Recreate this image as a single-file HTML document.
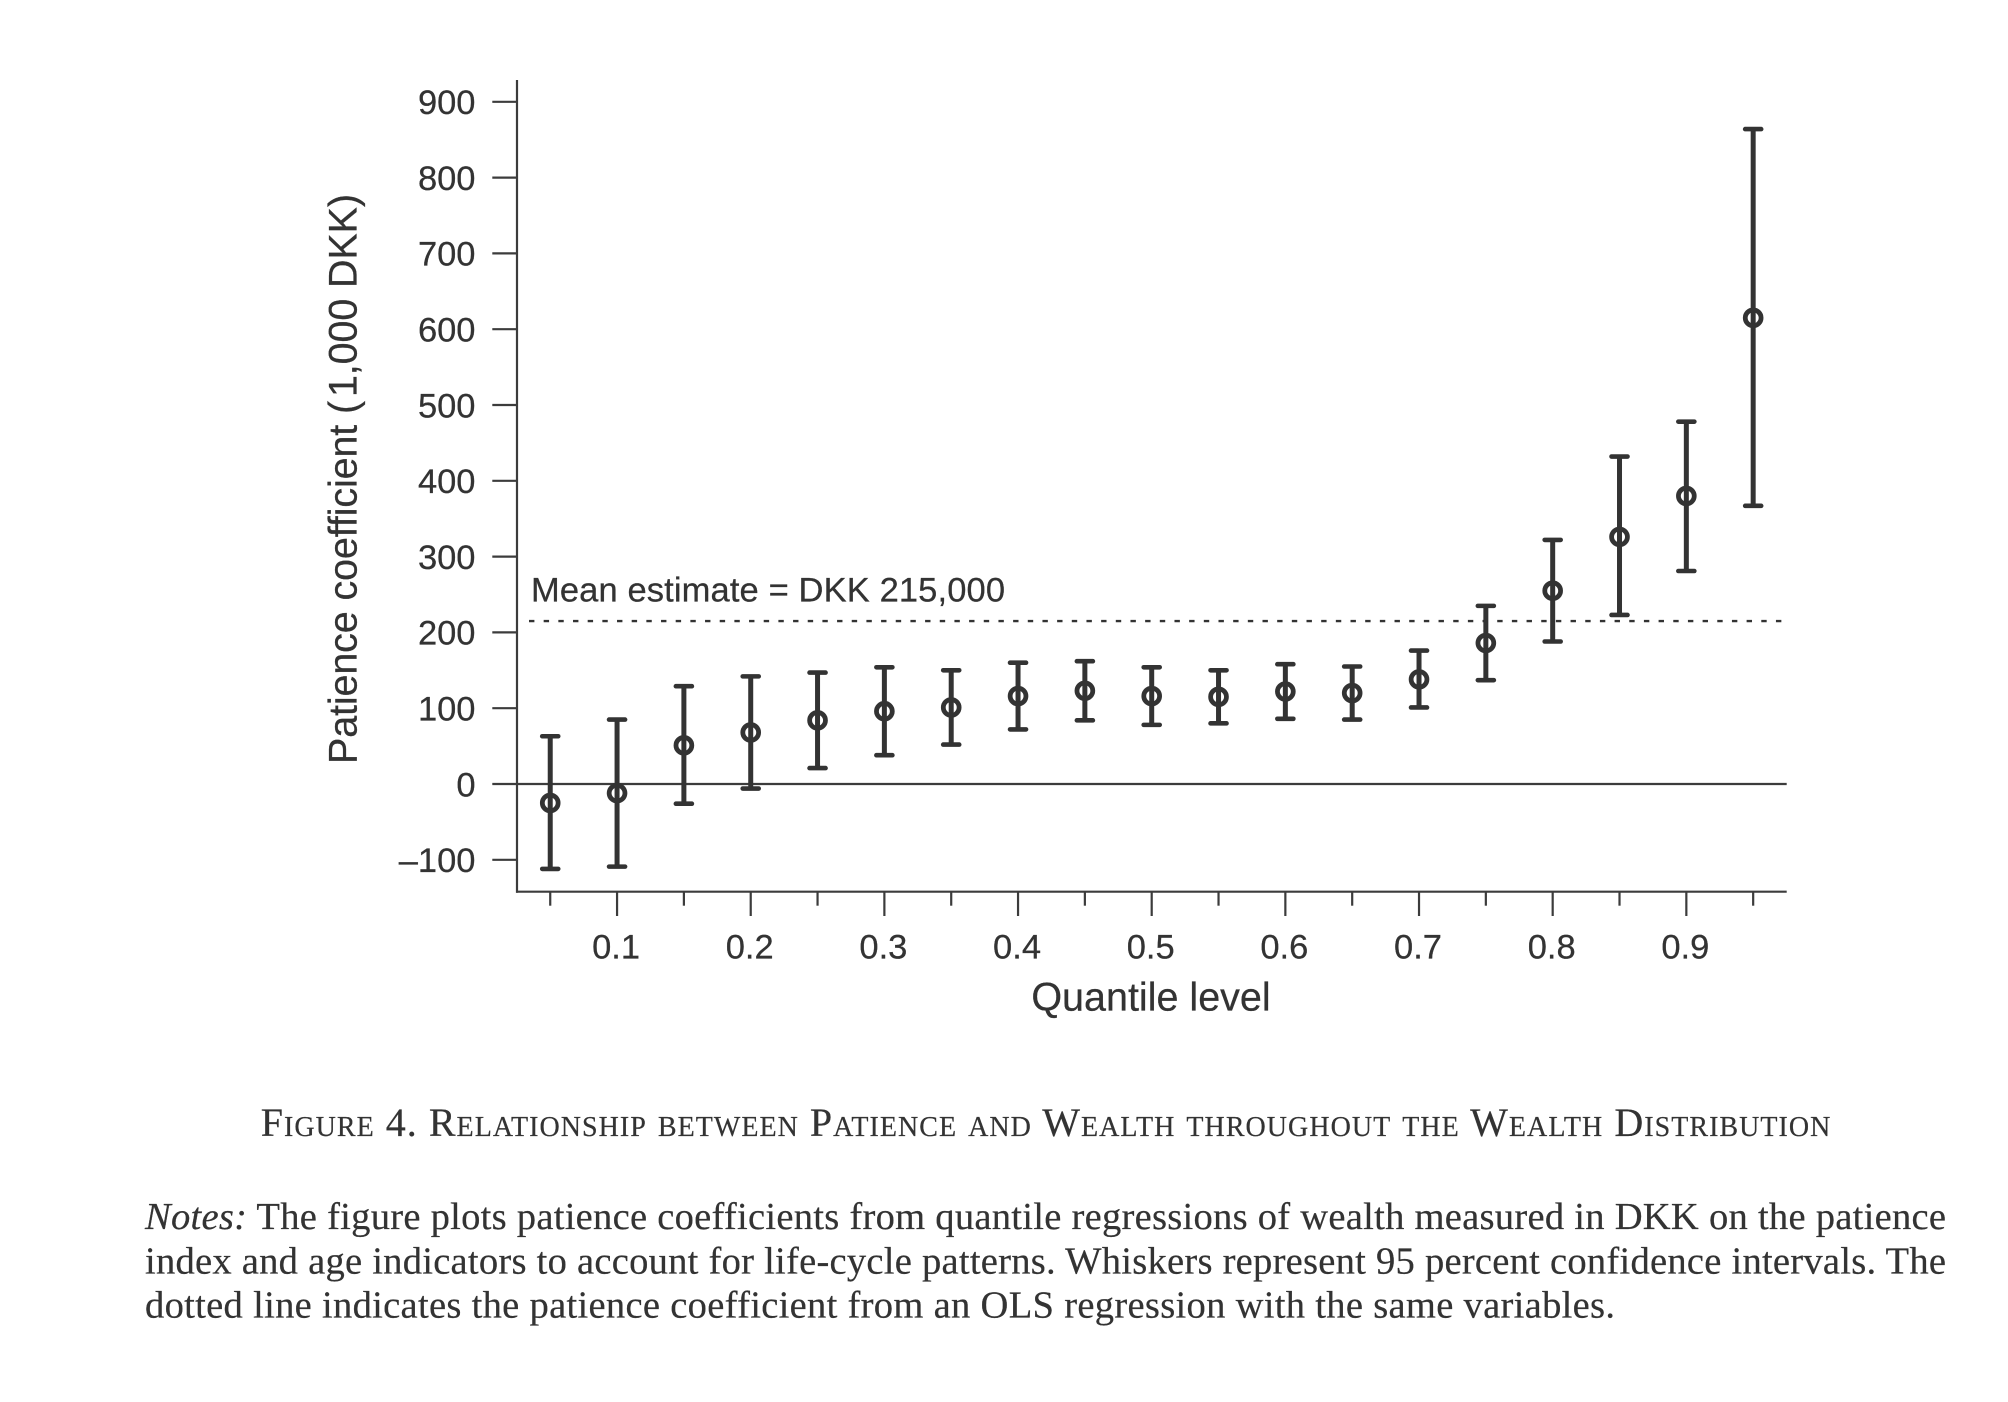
<!DOCTYPE html>
<html lang="en">
<head>
<meta charset="utf-8">
<title>Figure 4</title>
<style>
html,body{margin:0;padding:0;background:#fff;}
body{width:2008px;height:1402px;overflow:hidden;}
svg{display:block;}
.sans{font-family:"Liberation Sans",Arial,sans-serif;fill:#333;stroke:#333;stroke-width:0.25px;}
.serif{font-family:"Liberation Serif","Times New Roman",serif;fill:#333;stroke:#333;stroke-width:0.2px;}
</style>
</head>
<body>
<svg id="figure" xmlns="http://www.w3.org/2000/svg" width="2008" height="1402" viewBox="0 0 2008 1402">
  <rect x="0" y="0" width="2008" height="1402" fill="#ffffff"/>
  <g id="axes"></g>
  <g id="marks"></g>
  <text class="sans" font-size="39.5" transform="translate(356.7,764) rotate(-90)" textLength="570" lengthAdjust="spacing">Patience coefficient (<tspan dx="4">1,000 DKK)</tspan></text>
  <text class="sans" font-size="39.5" x="1151" y="1010.7" text-anchor="middle">Quantile level</text>
  <text class="sans" font-size="34.5" x="531" y="601.7" textLength="474" lengthAdjust="spacing">Mean estimate = DKK 215,000</text>
  <text class="serif" font-size="40" x="260.7" y="1136" textLength="1569.7" lengthAdjust="spacing" style="font-variant:small-caps">Figure 4. Relationship between Patience and Wealth throughout the Wealth Distribution</text>
  <text class="serif" font-size="38.6" x="145" y="1229" textLength="1801" lengthAdjust="spacing"><tspan font-style="italic">Notes:</tspan> The figure plots patience coefficients from quantile regressions of wealth measured in DKK on the patience</text>
  <text class="serif" font-size="38.6" x="145" y="1273.3" textLength="1801" lengthAdjust="spacing">index and age indicators to account for life-cycle patterns. Whiskers represent 95 percent confidence intervals. The</text>
  <text class="serif" font-size="38.6" x="145" y="1317.7" textLength="1470" lengthAdjust="spacing">dotted line indicates the patience coefficient from an OLS regression with the same variables.</text>
</svg>
<script>
const quantiles = [0.05,0.10,0.15,0.20,0.25,0.30,0.35,0.40,0.45,0.50,0.55,0.60,0.65,0.70,0.75,0.80,0.85,0.90,0.95];
const estimates = [-25,-12,51,68,84,96,101,116,123,116,115,122,120,138,186,255,326,380,615];
const upperCI = [63,85,129,142,147,154,150,160,162,154,150,158,155,176,235,322,432,478,864];
const lowerCI = [-112,-109,-26,-6,21,38,52,72,84,78,80,86,85,101,137,188,223,281,367];
const meanEstimate = [215];
const yTickValues = [-100,0,100,200,300,400,500,600,700,800,900];
const yTickLabels = ["\u2013100","0","100","200","300","400","500","600","700","800","900"];
const xMajorTicks = [0.1,0.2,0.3,0.4,0.5,0.6,0.7,0.8,0.9];
const xMajorLabels = ["0.1","0.2","0.3","0.4","0.5","0.6","0.7","0.8","0.9"];
const xMinorTicks = [0.05,0.15,0.25,0.35,0.45,0.55,0.65,0.75,0.85,0.95];

const NS = "http://www.w3.org/2000/svg";
const INK = "#333333";
const AXIS = "#3c3c3c";
const axisX = 517, axisTop = 80, axisBottom = 891.7, axisRight = 1786.7;
function xScale(q){ return 483.4 + 1336.6 * q; }
function yScale(v){ return 784 - 0.758 * v; }

function mk(parent, tag, attrs, text){
  const n = document.createElementNS(NS, tag);
  for (const k in attrs) n.setAttribute(k, attrs[k]);
  if (text !== undefined) n.textContent = text;
  parent.appendChild(n);
  return n;
}

const axes = document.getElementById("axes");
const marks = document.getElementById("marks");

const yAxis = mk(axes, "line", {x1:axisX,x2:axisX,y1:axisTop,y2:axisBottom+1,stroke:AXIS,"stroke-width":2.2});


const xAxis = mk(axes, "line", {x1:axisX-1,x2:axisRight,y1:axisBottom,y2:axisBottom,stroke:AXIS,"stroke-width":2.2});



yTickValues.forEach(function(v,i){
  const py = yScale(v);
  const t = mk(axes, "line", {x1:492.3,x2:axisX,y1:py,y2:py,stroke:AXIS,"stroke-width":2.2});
  
  
  const l = mk(axes, "text", {x:475.5,y:py+12.3,"text-anchor":"end","font-size":34.5,"class":"sans"}, yTickLabels[i]);
  
  
});

xMajorTicks.forEach(function(q,i){
  const px = xScale(q);
  const t = mk(axes, "line", {x1:px,x2:px,y1:axisBottom,y2:916,stroke:AXIS,"stroke-width":2.2});
  
  
  const l = mk(axes, "text", {x:px-1,y:958.3,"text-anchor":"middle","font-size":34.5,"class":"sans"}, xMajorLabels[i]);
  
  
});

xMinorTicks.forEach(function(q){
  const px = xScale(q);
  const t = mk(axes, "line", {x1:px,x2:px,y1:axisBottom,y2:905.7,stroke:AXIS,"stroke-width":2.2});
  
  
});

const zeroLine = mk(axes, "line", {x1:axisX,x2:axisRight,y1:yScale(0),y2:yScale(0),stroke:AXIS,"stroke-width":2.2});



const meanLine = mk(axes, "line", {x1:529,x2:1783,y1:yScale(meanEstimate[0]),y2:yScale(meanEstimate[0]),stroke:INK,"stroke-width":2.4,"stroke-dasharray":"5.4 9.27"});



quantiles.forEach(function(q,i){
  const px = xScale(q);
  const g = mk(marks, "g", {});
  
  
  const w = mk(g, "line", {x1:px,x2:px,y1:yScale(upperCI[i]),y2:yScale(lowerCI[i]),stroke:INK,"stroke-width":5});
  
  
  const top = mk(g, "line", {x1:px-8,x2:px+8,y1:yScale(upperCI[i]),y2:yScale(upperCI[i]),stroke:INK,"stroke-width":4.6,"stroke-linecap":"round"});
  
  
  const bot = mk(g, "line", {x1:px-8,x2:px+8,y1:yScale(lowerCI[i]),y2:yScale(lowerCI[i]),stroke:INK,"stroke-width":4.6,"stroke-linecap":"round"});
  
  
  const c = mk(g, "circle", {cx:px,cy:yScale(estimates[i]),r:7.9,fill:"none",stroke:INK,"stroke-width":4.8});
  
  
});
</script>
</body>
</html>
